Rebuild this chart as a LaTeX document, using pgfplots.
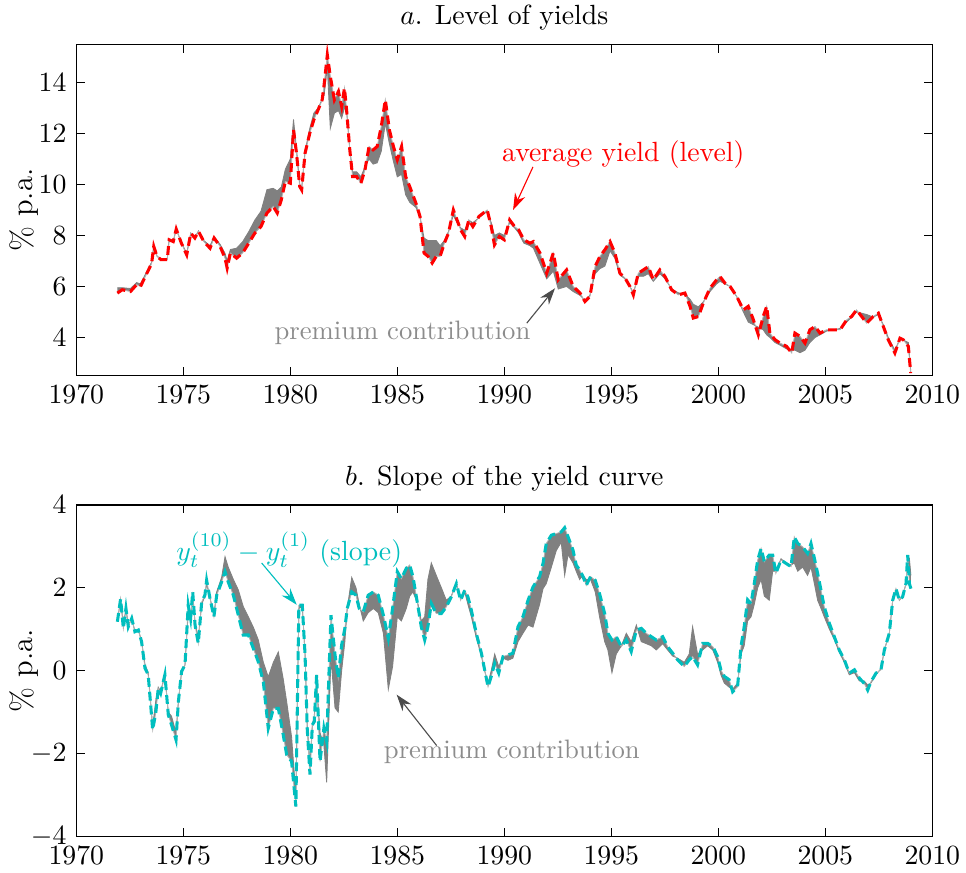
\documentclass[border=0pt]{standalone}
\usepackage{pgfplots}
\pgfplotsset{compat=1.18}
\usepackage{pgfplotstable}
\usetikzlibrary{arrows.meta}

\definecolor{slopec}{RGB}{0,190,190}
\definecolor{bandgray}{gray}{0.5}
\definecolor{txtgray}{gray}{0.55}
\definecolor{arrgray}{gray}{0.3}

% x = year, y = yield shown dashed, p = other edge of the premium band
\pgfplotstableread{
x y p
1971.92 5.74 5.95
1972.15 5.87 5.95
1972.53 5.80 5.92
1972.82 6.07 6.15
1973.00 6.00 6.10
1973.30 6.52 6.60
1973.52 6.90 6.95
1973.62 7.57 7.60
1973.77 7.18 7.20
1973.96 7.05 7.05
1974.25 7.05 7.08
1974.34 7.83 7.85
1974.53 7.76 7.78
1974.67 8.25 8.25
1974.91 7.70 7.72
1975.16 7.24 7.30
1975.35 8.09 8.10
1975.54 7.90 7.92
1975.71 8.16 8.18
1975.96 7.76 7.80
1976.25 7.50 7.60
1976.44 7.90 7.95
1976.72 7.57 7.65
1976.95 7.11 7.30
1977.05 6.72 7.00
1977.20 7.31 7.45
1977.49 7.11 7.50
1977.77 7.31 7.75
1978.06 7.70 8.15
1978.34 8.09 8.60
1978.63 8.35 8.95
1978.91 8.88 9.80
1979.20 9.14 9.85
1979.39 8.88 9.75
1979.58 9.40 9.90
1979.77 10.12 10.60
1980.00 10.05 11.00
1980.15 12.14 12.55
1980.29 11.23 11.40
1980.44 9.92 10.00
1980.53 9.79 9.85
1980.69 11.23 11.30
1980.91 12.01 12.20
1981.10 12.54 12.80
1981.30 12.93 13.00
1981.49 13.32 13.35
1981.58 13.91 13.50
1981.73 15.08 14.60
1981.87 14.24 12.20
1982.06 13.32 12.80
1982.25 13.65 12.90
1982.40 13.06 12.60
1982.53 13.78 13.00
1982.63 12.93 12.90
1982.78 11.36 11.40
1982.91 10.31 10.50
1983.10 10.31 10.50
1983.30 10.05 10.30
1983.49 10.58 10.70
1983.68 11.49 11.00
1983.87 11.36 10.80
1984.06 11.49 10.85
1984.25 12.27 11.30
1984.44 13.32 12.40
1984.63 12.14 11.60
1984.82 11.49 10.90
1985.00 10.97 10.30
1985.20 11.49 10.40
1985.39 10.31 9.60
1985.58 9.92 9.30
1985.87 9.27 9.10
1986.06 8.75 8.75
1986.25 7.31 7.90
1986.44 7.18 7.80
1986.63 6.92 7.80
1986.82 7.18 7.80
1987.00 7.18 7.60
1987.20 7.70 7.80
1987.39 8.09 8.15
1987.62 9.00 8.80
1987.73 8.75 8.60
1987.96 8.22 8.30
1988.15 7.96 8.20
1988.34 8.61 8.60
1988.53 8.35 8.50
1988.82 8.75 8.70
1989.20 9.00 8.95
1989.39 8.35 8.50
1989.54 7.63 8.00
1989.77 7.96 8.10
1990.00 7.83 8.00
1990.25 8.61 8.50
1990.48 8.35 8.30
1990.67 8.22 8.10
1990.91 7.83 7.70
1991.20 7.70 7.60
1991.36 7.76 7.50
1991.67 7.31 6.90
1991.98 6.52 6.30
1992.29 7.31 6.60
1992.52 6.26 5.90
1992.91 6.65 6.00
1993.22 6.00 5.80
1993.54 5.74 5.65
1993.77 5.41 5.45
1994.00 5.61 5.65
1994.24 6.78 6.50
1994.47 7.18 6.70
1994.70 7.44 6.80
1994.94 7.76 7.40
1995.17 7.31 7.10
1995.40 6.52 6.45
1995.64 6.33 6.30
1995.87 6.00 6.00
1996.03 5.67 5.75
1996.26 6.52 6.40
1996.50 6.65 6.40
1996.73 6.78 6.50
1996.96 6.26 6.20
1997.27 6.65 6.50
1997.51 6.39 6.30
1997.82 5.87 5.90
1998.13 5.67 5.75
1998.44 5.74 5.70
1998.68 5.22 5.50
1998.83 4.76 5.30
1999.07 4.82 5.20
1999.30 5.35 5.40
1999.61 5.93 5.80
1999.92 6.26 6.10
2000.08 6.39 6.20
2000.31 6.13 6.10
2000.55 6.00 6.00
2000.86 5.61 5.60
2001.17 5.08 5.00
2001.40 5.22 4.60
2001.64 4.69 4.50
2001.87 4.10 4.40
2002.10 4.82 4.30
2002.26 5.22 4.10
2002.41 4.17 4.00
2002.65 3.91 3.80
2002.88 3.78 3.70
2003.19 3.65 3.55
2003.43 3.39 3.50
2003.58 4.17 3.50
2003.82 4.04 3.40
2004.05 3.78 3.50
2004.28 4.30 3.80
2004.52 4.43 4.00
2004.75 4.17 4.10
2005.06 4.30 4.25
2005.37 4.30 4.30
2005.69 4.30 4.35
2006.00 4.69 4.60
2006.23 4.82 4.80
2006.46 5.08 5.00
2006.70 4.82 4.95
2006.93 4.56 4.90
2007.24 4.82 4.80
2007.48 4.95 4.90
2007.71 4.43 4.50
2007.94 3.91 4.00
2008.25 3.39 3.50
2008.49 3.97 3.95
2008.64 3.91 3.90
2008.88 3.65 3.80
2008.99 2.60 2.70
}\levtab

\pgfplotstableread{
x y p
1971.92 1.18 1.20
1972.07 1.73 1.70
1972.20 1.02 1.10
1972.32 1.50 1.50
1972.43 1.06 1.10
1972.59 1.26 1.25
1972.74 0.94 0.95
1972.90 0.98 0.98
1973.05 0.70 0.72
1973.21 0.06 0.15
1973.36 -0.10 -0.05
1973.57 -1.43 -1.35
1973.72 -0.99 -0.70
1973.83 -0.43 -0.40
1973.94 -0.55 -0.50
1974.14 -0.10 -0.10
1974.30 -1.07 -1.00
1974.45 -1.31 -1.10
1974.66 -1.67 -1.50
1974.77 -0.75 -0.75
1974.92 -0.02 -0.02
1975.08 0.14 0.14
1975.23 1.58 1.40
1975.34 1.26 1.20
1975.44 1.90 1.85
1975.55 1.10 1.15
1975.70 0.66 0.80
1975.86 1.66 1.60
1976.01 1.82 1.80
1976.09 2.18 2.10
1976.25 1.74 1.75
1976.43 1.30 1.35
1976.56 1.82 1.90
1976.79 2.14 2.25
1976.95 2.39 2.75
1977.10 2.14 2.50
1977.34 1.82 2.20
1977.57 1.34 1.95
1977.80 0.86 1.55
1978.04 0.86 1.30
1978.27 0.54 1.05
1978.50 0.22 0.75
1978.74 -0.27 0.20
1978.97 -1.39 -0.15
1979.21 -0.91 0.20
1979.44 -0.91 0.45
1979.67 -1.55 -0.20
1979.83 -2.03 -0.75
1980.06 -2.19 -1.60
1980.26 -3.28 -3.00
1980.40 1.58 1.50
1980.56 1.58 1.55
1980.69 0.38 0.40
1980.79 -1.39 -1.30
1980.92 -2.51 -2.30
1981.03 -1.31 -1.30
1981.12 -1.23 -1.10
1981.23 -0.10 -0.30
1981.39 -2.19 -1.50
1981.57 -1.39 -1.80
1981.70 -1.71 -2.70
1981.90 1.34 0.30
1982.09 0.38 -0.90
1982.24 -0.18 -1.00
1982.40 0.62 0.00
1982.55 1.02 0.70
1982.66 1.50 1.50
1982.87 1.90 2.25
1983.07 1.82 2.00
1983.22 1.50 1.60
1983.41 1.42 1.20
1983.64 1.82 1.40
1983.88 1.90 1.50
1984.11 1.82 1.40
1984.35 1.34 0.90
1984.58 0.78 -0.45
1984.78 1.50 0.10
1985.00 2.39 1.30
1985.19 2.22 1.20
1985.42 2.47 1.50
1985.58 2.55 1.80
1985.73 2.27 1.90
1985.97 1.54 1.60
1986.12 1.06 1.20
1986.28 0.74 1.30
1986.43 1.06 2.20
1986.59 1.62 2.60
1986.82 1.38 2.30
1987.06 1.38 2.00
1987.29 1.54 1.70
1987.52 1.78 1.80
1987.76 2.10 2.10
1987.96 1.70 1.75
1988.15 1.94 1.90
1988.30 1.78 1.60
1988.46 1.46 1.30
1988.69 0.90 0.80
1988.93 0.42 0.35
1989.08 0.02 0.00
1989.24 -0.39 -0.30
1989.39 -0.14 0.00
1989.55 0.18 0.40
1989.74 -0.06 0.10
1989.94 0.34 0.30
1990.17 0.38 0.25
1990.40 0.42 0.30
1990.64 1.06 0.70
1990.87 1.30 0.90
1991.11 1.70 1.10
1991.34 2.02 1.05
1991.65 2.27 1.60
1991.81 2.59 1.98
1991.96 3.07 2.10
1992.20 3.27 2.50
1992.43 3.31 2.90
1992.66 3.35 3.10
1992.82 3.45 2.30
1992.98 3.23 2.80
1993.21 2.91 2.60
1993.36 2.55 2.40
1993.52 2.43 2.20
1993.68 2.27 2.30
1993.83 2.06 2.20
1994.03 2.27 2.20
1994.25 2.18 1.90
1994.45 1.86 1.30
1994.69 1.38 0.70
1994.84 0.90 0.50
1995.03 0.74 -0.05
1995.23 0.82 0.40
1995.47 0.58 0.60
1995.70 0.74 0.90
1995.93 0.46 0.70
1996.17 0.98 1.10
1996.40 1.02 0.70
1996.64 0.90 0.65
1996.87 0.82 0.60
1997.10 0.74 0.50
1997.40 0.82 0.65
1997.63 0.58 0.50
1997.87 0.42 0.35
1998.10 0.26 0.30
1998.41 0.10 0.20
1998.64 0.26 0.40
1998.80 0.34 1.06
1999.03 0.14 0.40
1999.27 0.66 0.50
1999.50 0.66 0.60
1999.74 0.58 0.50
1999.97 0.34 0.20
2000.12 0.02 -0.10
2000.28 -0.14 -0.30
2000.51 -0.22 -0.40
2000.67 -0.51 -0.45
2000.90 -0.39 -0.30
2001.06 0.58 0.40
2001.21 1.06 0.60
2001.37 1.71 1.20
2001.53 1.62 1.30
2001.68 2.10 1.60
2001.84 2.67 2.00
2002.00 2.95 2.20
2002.15 2.63 1.80
2002.38 2.79 1.70
2002.54 2.79 2.40
2002.69 2.35 2.40
2002.93 2.67 2.70
2003.16 2.59 2.60
2003.40 2.51 2.55
2003.55 3.23 2.60
2003.71 3.07 2.40
2003.94 2.99 2.50
2004.17 2.83 2.30
2004.33 3.07 2.50
2004.49 2.71 2.10
2004.64 2.35 1.70
2004.80 1.94 1.50
2004.95 1.54 1.30
2005.19 1.14 1.00
2005.42 0.82 0.75
2005.65 0.50 0.45
2005.89 0.26 0.20
2006.12 -0.06 -0.10
2006.36 0.02 -0.05
2006.59 -0.18 -0.25
2006.82 -0.31 -0.25
2006.98 -0.47 -0.35
2007.13 -0.27 -0.30
2007.37 -0.06 -0.10
2007.60 0.02 0.05
2007.76 0.50 0.50
2007.99 0.90 0.90
2008.15 1.70 1.70
2008.30 1.98 1.95
2008.46 1.70 1.70
2008.61 1.78 1.80
2008.77 2.10 2.10
2008.85 2.79 2.60
2008.93 2.10 2.70
2009.00 1.98 2.30
}\slotab

% band polygons: forward along y, then back along p
\pgfplotstablesort[sort key=x, sort cmp=float <]{\levband}{\levtab}
\pgfplotstablesort[sort key=x, sort cmp=float >]{\levrev}{\levtab}
\pgfplotstablecreatecol[copy=y]{b}{\levband}
\pgfplotstablecreatecol[copy=p]{b}{\levrev}
\pgfplotstablevertcat{\levband}{\levrev}

\pgfplotstablesort[sort key=x, sort cmp=float <]{\sloband}{\slotab}
\pgfplotstablesort[sort key=x, sort cmp=float >]{\slorev}{\slotab}
\pgfplotstablecreatecol[copy=y]{b}{\sloband}
\pgfplotstablecreatecol[copy=p]{b}{\slorev}
\pgfplotstablevertcat{\sloband}{\slorev}

\pgfplotsset{
  every axis title shift=0pt,
  panel/.style={
    scale only axis,
    width=308.2pt, height=119.3pt,
    xmin=1970, xmax=2010,
    xtick={1970,1975,...,2010},
    scaled x ticks=false,
    xticklabel style={/pgf/number format/1000 sep={}},
    tick align=inside,
    major tick length=3pt,
    tick style={black, line width=0.4pt},
    axis line style={line width=0.5pt},
    tick label style={font=\fontsize{10}{12}\selectfont},
    ylabel={\% p.a.},
    ylabel style={at={(axis description cs:-0.061,0.5)}, anchor=center,
      font=\fontsize{11}{13}\selectfont},
    title style={anchor=base, yshift=7pt, font=\fontsize{10}{12}\selectfont},
  },
  dashy/.style={line width=1.1pt, dash pattern=on 3.2pt off 1.8pt},
}

\begin{document}
\begin{tikzpicture}
\useasboundingbox (0,0) rectangle (347.8pt,-314.3pt);

\begin{axis}[panel, at={(27.47pt,-15.95pt)}, anchor=north west,
  ymin=2.5, ymax=15.5, ytick={4,6,...,14},
  title={$a$. Level of yields}]
  \addplot[fill=bandgray, draw=none] table[x=x, y=b]{\levband};
  \addplot[bandgray, line width=0.3pt] table[x=x, y=p]{\levtab};
  \addplot[gray!60, line width=0.3pt] table[x=x, y=y]{\levtab};
  \addplot[red, dashy] table[x=x, y=y]{\levtab};
  \node[red, font=\fontsize{10}{12}\selectfont] at (axis cs:1995.56,11.16) {average yield (level)};
  \draw[red, line width=0.4pt, -{Stealth[length=6pt, width=4pt]}]
    (axis cs:1991.34,10.69) -- (axis cs:1990.41,9.0);
  \node[txtgray, font=\fontsize{9.6}{12}\selectfont] at (axis cs:1985.24,4.2) {premium contribution};
  \draw[arrgray, line width=0.4pt, -{Stealth[length=6pt, width=4pt]}]
    (axis cs:1991.05,4.56) -- (axis cs:1992.37,5.93);
\end{axis}

\begin{axis}[panel, at={(27.47pt,-181.8pt)}, anchor=north west,
  ymin=-4, ymax=4, ytick={-4,-2,...,4},
  title={$b$. Slope of the yield curve}]
  \addplot[fill=bandgray, draw=none] table[x=x, y=b]{\sloband};
  \addplot[bandgray, line width=0.3pt] table[x=x, y=p]{\slotab};
  \addplot[gray!60, line width=0.3pt] table[x=x, y=y]{\slotab};
  \addplot[slopec, dashy] table[x=x, y=y]{\slotab};
  \node[slopec, font=\fontsize{10}{12}\selectfont] at (axis cs:1979.95,2.92) {$y_t^{(10)}-y_t^{(1)}$ (slope)};
  \draw[slopec, line width=0.4pt, -{Stealth[length=6pt, width=4pt]}]
    (axis cs:1978.66,2.6) -- (axis cs:1980.3,1.59);
  \node[txtgray, font=\fontsize{9.6}{12}\selectfont] at (axis cs:1990.35,-1.95) {premium contribution};
  \draw[arrgray, line width=0.4pt, -{Stealth[length=6pt, width=4pt]}]
    (axis cs:1986.84,-1.81) -- (axis cs:1984.97,-0.58);
\end{axis}
\end{tikzpicture}
\end{document}
